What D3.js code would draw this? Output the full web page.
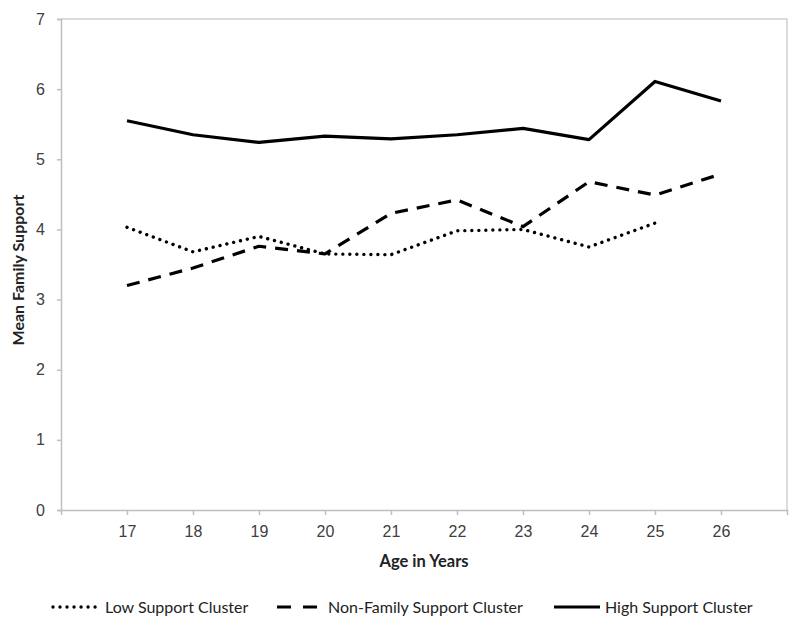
<!DOCTYPE html>
<html>
<head>
<meta charset="utf-8">
<script src="https://cdn.jsdelivr.net/npm/d3@7"></script>
<style>
  body { margin: 0; background: #fff; }
  svg { display: block; font-family: Lato, "Open Sans", sans-serif; }
</style>
</head>
<body>
<svg id="chart" width="800" height="630"></svg>
<script>
const ages = [17, 18, 19, 20, 21, 22, 23, 24, 25, 26];
const lowSupport = [4.03, 3.68, 3.90, 3.65, 3.64, 3.98, 4.00, 3.75, 4.09, null];
const nonFamilySupport = [3.20, 3.45, 3.76, 3.65, 4.23, 4.42, 4.04, 4.68, 4.49, 4.79];
const highSupport = [5.55, 5.35, 5.24, 5.33, 5.29, 5.35, 5.44, 5.28, 6.11, 5.83];
const seriesNames = ["Low Support Cluster", "Non-Family Support Cluster", "High Support Cluster"];
const yTicks = [0, 1, 2, 3, 4, 5, 6, 7];

(function () {
const svg = d3.select("#chart");
const pLeft = 61, pRight = 787, pTop = 19, pBottom = 510;

const x = d3.scaleLinear().domain([16, 27]).range([pLeft, pRight]);
const y = d3.scaleLinear().domain([0, 7]).range([pBottom, pTop]);

const axisColor = "#bfbfbf";
const textColor = "#404040";

// plot border (top & right)
svg.append("path")
  .attr("d", `M${pLeft},${pTop}H${pRight}V${pBottom}`)
  .attr("fill", "none").attr("stroke", "#d0d0d0").attr("stroke-width", 1.5);

// Y axis
const yAxis = svg.append("g").attr("transform", `translate(${pLeft},0)`)
  .call(d3.axisLeft(y).tickValues(yTicks).tickSize(4).tickPadding(12).tickFormat(d3.format("d")));
yAxis.select(".domain").attr("stroke", axisColor).attr("stroke-width", 1.5);
yAxis.selectAll(".tick line").attr("stroke", axisColor).attr("stroke-width", 1.5);
yAxis.selectAll("text").attr("fill", textColor).style("font-size", "16px");

// X axis
const xAxis = svg.append("g").attr("transform", `translate(0,${pBottom})`)
  .call(d3.axisBottom(x).tickValues(ages).tickSize(5).tickPadding(11).tickFormat(d3.format("d")).tickSizeOuter(5));
xAxis.select(".domain").attr("stroke", axisColor).attr("stroke-width", 1.5);
xAxis.selectAll(".tick line").attr("stroke", axisColor).attr("stroke-width", 1.5);
xAxis.selectAll("text").attr("fill", textColor).style("font-size", "16px");

// Axis titles
svg.append("text")
  .attr("x", 424).attr("y", 567)
  .attr("text-anchor", "middle")
  .attr("font-weight", "bold").style("font-size", "16.5px").attr("fill", "#222")
  .text("Age in Years");
svg.append("text")
  .attr("transform", "translate(24,270) rotate(-90)")
  .attr("text-anchor", "middle")
  .attr("font-weight", "bold").style("font-size", "16px").attr("fill", "#222")
  .text("Mean Family Support");

const styles = [
  { dash: "0.01,7", cap: "round", width: 3.4 },
  { dash: "13,9", cap: "butt", width: 3.2 },
  { dash: null, cap: "butt", width: 3.2 }
];
const allSeries = [lowSupport, nonFamilySupport, highSupport];

const line = d3.line()
  .defined(d => d.v != null)
  .x(d => x(d.age))
  .y(d => y(d.v));

allSeries.forEach((vals, i) => {
  const data = ages.map((a, j) => ({ age: a, v: vals[j] }));
  svg.append("path")
    .datum(data)
    .attr("fill", "none")
    .attr("stroke", "#000")
    .attr("stroke-width", styles[i].width)
    .attr("stroke-linecap", styles[i].cap)
    .attr("stroke-linejoin", "round")
    .attr("stroke-dasharray", styles[i].dash)
    .attr("d", line);
});

// Legend
const legendY = 607;
const legendItems = [
  { x1: 53, x2: 100, tx: 105 },
  { x1: 277, x2: 317, tx: 328 },
  { x1: 554, x2: 600, tx: 605 }
];
legendItems.forEach((it, i) => {
  svg.append("line")
    .attr("x1", it.x1).attr("x2", it.x2)
    .attr("y1", legendY).attr("y2", legendY)
    .attr("stroke", "#000")
    .attr("stroke-width", styles[i].width)
    .attr("stroke-linecap", styles[i].cap)
    .attr("stroke-dasharray", i === 1 ? "14,12" : styles[i].dash);
  svg.append("text")
    .attr("x", it.tx).attr("y", legendY + 6)
    .style("font-size", "16px").attr("fill", "#222")
    .text(seriesNames[i]);
});
})();
</script>
</body>
</html>
